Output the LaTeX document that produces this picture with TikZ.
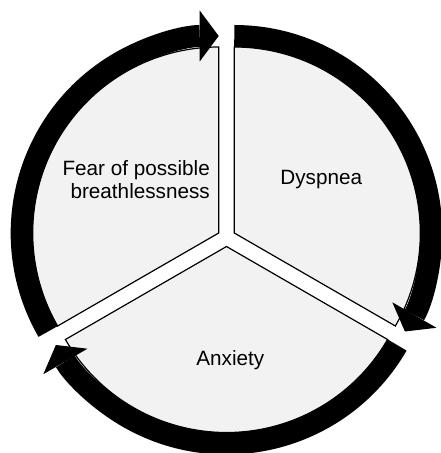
\documentclass[tikz,border=0pt]{standalone}
\usepackage{fontspec}
\setmainfont{Liberation Sans}
\usetikzlibrary{arrows.meta,calc}
\definecolor{sectorgray}{HTML}{F2F2F2}
\tikzset{
  sector/.style={fill=sectorgray, draw=black, line width=1.2pt, line join=miter},
  ring/.style={line width=22pt, -{Triangle[length=19pt,width=51pt,line width=0pt]}},
  stage/.style={inner sep=0pt, font=\fontsize{20.7}{23.3}\selectfont}
}

\begin{document}
\begin{tikzpicture}[x=1pt, y=1pt]
  \useasboundingbox (-226.5,-215.5) rectangle (214.5,237.5);
  \coordinate (fear) at (150:9);
  \coordinate (dysp) at (30:9);
  \coordinate (anx) at (270:9);

  \filldraw[sector] (fear) -- ++(90:186) arc[start angle=90, end angle=210, radius=186] -- cycle;
  \filldraw[sector] (dysp) -- ++(-30:186) arc[start angle=-30, end angle=90, radius=186] -- cycle;
  \filldraw[sector] (anx) -- ++(210:186) arc[start angle=210, end angle=330, radius=186] -- cycle;

  \draw[ring] ($(fear)+(210:197)$) arc[start angle=210, end angle=90, radius=197];
  \draw[ring] ($(dysp)+(90:197)$) arc[start angle=90, end angle=-30, radius=197];
  \draw[ring] ($(anx)+(-30:197)$) arc[start angle=-30, end angle=-150, radius=197];

  \node[stage, align=right, anchor=east] (feartext) at (-16.5,58.2) {Fear of possible\\breathlessness};
  \node[stage, anchor=base] (dysptext) at (94.8,53.5) {Dyspnea};
  \node[stage, anchor=base] (anxtext) at (3.8,-127.5) {Anxiety};
\end{tikzpicture}
\end{document}
